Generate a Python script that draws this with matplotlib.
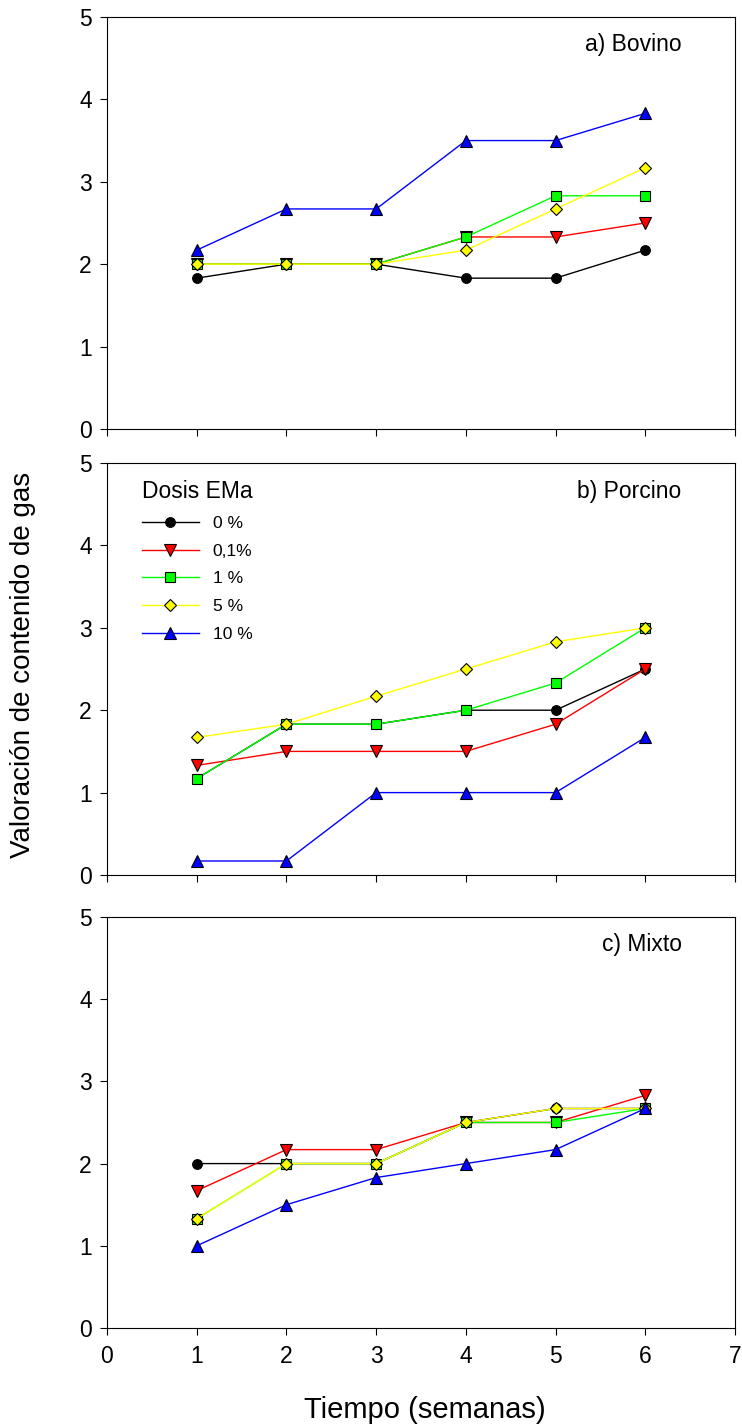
"""
Valoración del contenido de gas por dosis de EMa en tres tipos de purín
(bovino, porcino, mixto) a lo largo de 6 semanas.
"""
import matplotlib
matplotlib.use("Agg")
import matplotlib.pyplot as plt

plt.rcParams["font.family"] = ["Liberation Sans", "DejaVu Sans"]

semanas = [1, 2, 3, 4, 5, 6]
dosis = ["0 %", "0,1%", "1 %", "5 %", "10 %"]

# a) Bovino
bovino_0 = [1.83, 2.0, 2.0, 1.83, 1.83, 2.17]
bovino_01 = [2.0, 2.0, 2.0, 2.33, 2.33, 2.5]
bovino_1 = [2.0, 2.0, 2.0, 2.33, 2.83, 2.83]
bovino_5 = [2.0, 2.0, 2.0, 2.17, 2.67, 3.17]
bovino_10 = [2.17, 2.67, 2.67, 3.5, 3.5, 3.83]

# b) Porcino
porcino_0 = [1.17, 1.83, 1.83, 2.0, 2.0, 2.5]
porcino_01 = [1.33, 1.5, 1.5, 1.5, 1.83, 2.5]
porcino_1 = [1.17, 1.83, 1.83, 2.0, 2.33, 3.0]
porcino_5 = [1.67, 1.83, 2.17, 2.5, 2.83, 3.0]
porcino_10 = [0.17, 0.17, 1.0, 1.0, 1.0, 1.67]

# c) Mixto
mixto_0 = [2.0, 2.0, 2.0, 2.5, 2.67, 2.67]
mixto_01 = [1.67, 2.17, 2.17, 2.5, 2.5, 2.83]
mixto_1 = [1.33, 2.0, 2.0, 2.5, 2.5, 2.67]
mixto_5 = [1.33, 2.0, 2.0, 2.5, 2.67, 2.67]
mixto_10 = [1.0, 1.5, 1.83, 2.0, 2.17, 2.67]

paneles = [
    ("a) Bovino", [bovino_0, bovino_01, bovino_1, bovino_5, bovino_10]),
    ("b) Porcino", [porcino_0, porcino_01, porcino_1, porcino_5, porcino_10]),
    ("c) Mixto", [mixto_0, mixto_01, mixto_1, mixto_5, mixto_10]),
]

estilos = [
    dict(color="black", marker="o", mfc="black"),
    dict(color="red", marker="v", mfc="red"),
    dict(color="#00ff00", marker="s", mfc="#00ff00"),
    dict(color="#ffff00", marker="D", mfc="#ffff00"),
    dict(color="blue", marker="^", mfc="blue"),
]
tam_marker = [7, 8, 7, 6.5, 8]

fig = plt.figure(figsize=(7.42, 14.26), dpi=100)
izq, ancho = 0.1442, 0.8464
posiciones = [(0.6992, 0.2889), (0.3864, 0.2889), (0.0687, 0.2883)]

for i, ((titulo, series), (y0, alto)) in enumerate(zip(paneles, posiciones)):
    ax = fig.add_axes([izq, y0, ancho, alto])
    for nombre, vals, est, ms in zip(dosis, series, estilos, tam_marker):
        ax.plot(semanas, vals, lw=1.0, ms=ms, mec="black", mew=0.8,
                label=nombre, **est)
    ax.set_xlim(0, 7)
    ax.set_ylim(0, 5)
    ax.set_xticks(range(0, 8))
    ax.set_yticks(range(0, 6))
    ax.tick_params(direction="out", length=5, width=0.8, labelsize=16.5,
                   colors="black")
    ax.tick_params(axis="y", pad=6)
    ax.tick_params(axis="x", pad=7)
    if i < 2:
        ax.tick_params(labelbottom=False)
    for sp in ax.spines.values():
        sp.set_linewidth(0.8)
    ax.text(0.915, 0.932, titulo, transform=ax.transAxes, ha="right",
            va="center", fontsize=16.5)
    if i == 1:
        ax.legend(loc="upper left", bbox_to_anchor=(0.055, 0.958),
                  frameon=False, title="Dosis EMa", fontsize=12.5,
                  title_fontsize=16.5, handlelength=3.3,
                  handletextpad=0.8, labelspacing=0.72,
                  alignment="left", borderaxespad=0, borderpad=0)

fig.text(0.572, 0.011, "Tiempo (semanas)", ha="center", va="center",
         fontsize=21)
fig.text(0.031, 0.534, "Valoración de contenido de gas", rotation=90,
         ha="center", va="center", fontsize=20)

fig.savefig("out.png", dpi=100)
